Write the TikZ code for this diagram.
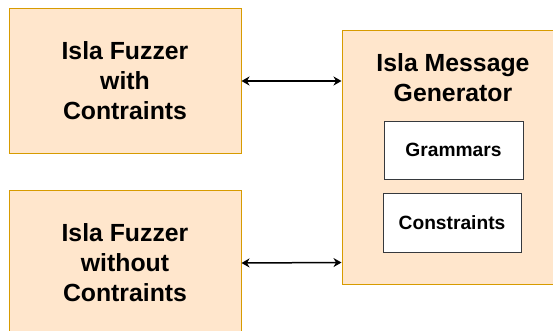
\documentclass[tikz,border=0pt]{standalone}
\usepackage{fontspec}
\setmainfont{Liberation Sans}
\usetikzlibrary{arrows.meta}
\definecolor{boxfill}{HTML}{FFE6CC}
\definecolor{boxline}{HTML}{D79B00}
\definecolor{innerline}{HTML}{36393D}
\tikzset{
  outerbox/.style={draw=boxline, fill=boxfill, line width=0.8pt, inner sep=0pt},
  innerbox/.style={draw=innerline, fill=white, line width=0.8pt, inner sep=0pt,
    font=\fontsize{19.2}{22}\selectfont\bfseries},
  bigtext/.style={font=\fontsize{24.8}{30}\selectfont\bfseries, align=center},
  tip/.style={Stealth[length=8pt,width=9pt,inset=2.5pt]},
  link/.style={{Stealth[length=8pt,width=9pt,inset=2.5pt]}-{Stealth[length=8pt,width=9pt,inset=2.5pt]}, line width=1.5pt}
}
\begin{document}
\begin{tikzpicture}[x=1pt,y=-1pt]
\useasboundingbox (0,0) rectangle (553,331);
% left: the two fuzzers
\draw[outerbox] (9,8) rectangle (241,153);
\node[bigtext] (fw) at (125,81) {Isla Fuzzer\\with\\Contraints};
\draw[outerbox] (9,190) rectangle (241,340);
\node[bigtext] (fwo) at (125,263) {Isla Fuzzer\\without\\Contraints};
% right: the message generator
\draw[outerbox] (342,30) rectangle (566,284);
\node[bigtext] (gen) at (453,78) {Isla Message\\Generator};
\node[innerbox, minimum width=139pt, minimum height=58pt] (gram) at (453.5,150) {Grammars};
\node[innerbox, minimum width=138pt, minimum height=59pt] (cons) at (452,222.5) {Constraints};
% coordinates on the box edges
\coordinate (fwE) at (241.5,81);
\coordinate (genW1) at (341.5,81);
\coordinate (fwoE) at (241.5,263);
\coordinate (genW2) at (341.5,262.5);
\draw[link] (fwE) -- (genW1);
\draw[link] (fwoE) -- (genW2);
\end{tikzpicture}
\end{document}
